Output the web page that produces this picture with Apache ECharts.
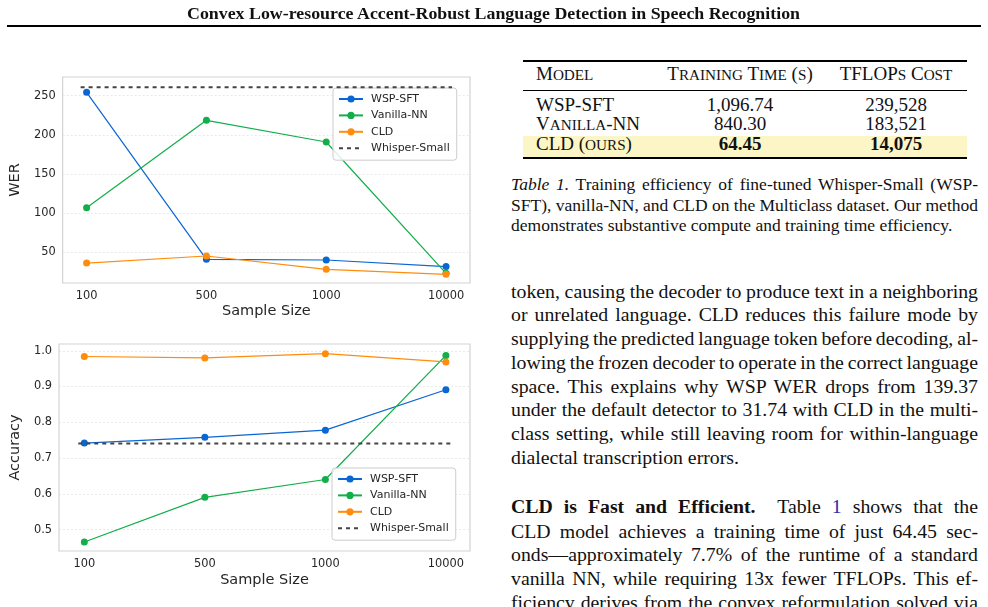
<!DOCTYPE html>
<html><head><meta charset="utf-8">
<script src="https://cdn.jsdelivr.net/npm/echarts/dist/echarts.min.js"></script>
<style>
html,body{margin:0;padding:0;background:#fff;width:988px;height:607px;overflow:hidden;}
#chart{position:absolute;left:0;top:0;width:490px;height:607px;}
.t{position:absolute;font-family:"Liberation Serif","Times New Roman",serif;color:#111;white-space:nowrap;}
.s{font-size:0.8em;}
.rule{position:absolute;background:#000;}
</style>
</head><body>
<div id="chart"></div>
<div id="page"></div>
<script>
// ---------- data ----------
const sampleSizes = ['100', '500', '1000', '10000'];
const seriesNames = ['WSP-SFT', 'Vanilla-NN', 'CLD', 'Whisper-Small'];
const werWspSft  = [254.3, 41.0, 40.2, 31.74];
const werVanilla = [107.0, 218.6, 190.9, 23.2];
const werCld     = [36.3, 45.3, 28.3, 21.9];
const werWhisper = 260.7;
const accWspSft  = [0.742, 0.758, 0.778, 0.891];
const accVanilla = [0.465, 0.590, 0.640, 0.987];
const accCld     = [0.984, 0.980, 0.992, 0.969];
const accWhisper = 0.741;
const werTicks = [50, 100, 150, 200, 250];
const accTicks = [0.5, 0.6, 0.7, 0.8, 0.9, 1.0];
const catIdx = [0, 1, 2, 3];

const colors = ['#0a66d2', '#12ae4a', '#ff8c0c', '#444444'];
const txt = '#262626';
const font = 'DejaVu Sans';

function pts(vals){ return vals.map((v,i)=>[catIdx[i], v]); }
function hline(v){ return [[-0.05, v], [3.05, v]]; }

function xAx(gi, min, max, gap){
  return {type:'value', gridIndex:gi, min:min, max:max,
    name:'Sample Size', nameLocation:'middle', nameGap:gap,
    nameTextStyle:{fontSize:14.5, color:txt, fontFamily:font},
    axisLine:{show:false}, axisTick:{show:false}, splitLine:{show:false},
    axisLabel:{customValues:catIdx, formatter:v=>sampleSizes[Math.round(v)], margin:8, fontSize:11.4, color:txt, fontFamily:font}};
}
function yAx(gi, min, max, ticks, name, gap, dec){
  return {type:'value', gridIndex:gi, min:min, max:max,
    name:name, nameLocation:'middle', nameGap:gap,
    nameTextStyle:{fontSize:14.5, color:txt, fontFamily:font},
    axisLine:{show:false},
    axisTick:{show:false, customValues:ticks},
    splitLine:{show:true, lineStyle:{color:'#e4e4e4', width:0.8, type:[2,2]}},
    axisLabel:{customValues:ticks, formatter:v=>dec?v.toFixed(1):String(v), margin:7, fontSize:11.4, color:txt, fontFamily:font}};
}
function lineS(name, data, xi, yi, ci, z){
  return {type:'line', name:name, xAxisIndex:xi, yAxisIndex:yi, data:data, z:z,
    symbol:'circle', symbolSize:7, showSymbol:true,
    lineStyle:{width:1.2, color:colors[ci]}, itemStyle:{color:colors[ci]}, emphasis:{disabled:true}, animation:false};
}
function dashS(data, xi, yi){
  return {type:'line', name:'Whisper-Small', xAxisIndex:xi, yAxisIndex:yi, data:data, z:6,
    symbol:'none', lineStyle:{width:2, type:[4,4], color:colors[3]}, itemStyle:{color:colors[3]}, emphasis:{disabled:true}, animation:false};
}
function legendAt(left, top){
  return {left:left, top:top, orient:'vertical',
    data:seriesNames.map(n=> n==='Whisper-Small' ? {name:n, itemStyle:{opacity:0}} : {name:n}),
    padding:[5,7,6,5], itemGap:4.4, itemWidth:24, itemHeight:9,
    lineStyle:{width:2},
    textStyle:{fontSize:11, color:txt, fontFamily:font, lineHeight:12, padding:[0,0,0,3]},
    backgroundColor:'rgba(255,255,255,0.85)', borderColor:'#cccccc', borderWidth:1, borderRadius:3,
    selectedMode:false};
}

const chart = echarts.init(document.getElementById('chart'), null, {renderer:'canvas'});
chart.setOption({
  animation:false,
  textStyle:{fontFamily:font},
  grid:[
    {left:57, top:77, width:413, height:206, show:true, borderColor:'#d3d3d3', borderWidth:1.2, containLabel:false},
    {left:53, top:344, width:417, height:207, show:true, borderColor:'#d3d3d3', borderWidth:1.2, containLabel:false}
  ],
  xAxis:[xAx(0,-0.2,3.2,21), xAx(1,-0.21,3.2,21.3)],
  yAxis:[yAx(0,10.8,273.9,werTicks,'WER',27.5,false), yAx(1,0.44,1.019,accTicks,'Accuracy',23.8,true)],
  legend:[legendAt(333,88), legendAt(332,468)],
  series:[
    lineS('WSP-SFT', pts(werWspSft), 0,0,0,2),
    lineS('Vanilla-NN', pts(werVanilla), 0,0,1,3),
    lineS('CLD', pts(werCld), 0,0,2,4),
    dashS(hline(werWhisper),0,0),
    lineS('WSP-SFT', pts(accWspSft), 1,1,0,2),
    lineS('Vanilla-NN', pts(accVanilla), 1,1,1,3),
    lineS('CLD', pts(accCld), 1,1,2,4),
    dashS(hline(accWhisper),1,1)
  ]
});

// ---------- page text ----------
const page = document.getElementById('page');
function add(html, css, cls){
  const d = document.createElement('div');
  d.className = 't ' + (cls||'');
  d.innerHTML = html;
  d.style.cssText = css;
  page.appendChild(d);
  return d;
}
function rule(x,y,w,h){ const r=document.createElement('div'); r.className='rule'; r.style.cssText=`left:${x}px;top:${y}px;width:${w}px;height:${h}px;`; page.appendChild(r); }
function justify(d, width){
  const w = d.getBoundingClientRect().width;
  const n = (d.textContent.match(/[ \u00a0]/g)||[]).length;
  if(n>0) d.style.wordSpacing = ((width - w)/n) + 'px';
}
// manual small caps: lowercase letters -> smaller uppercase
function sc(str){
  return str.replace(/[a-z]+/g, m=>'<span class="s">'+m.toUpperCase()+'</span>');
}

// header
const title = add('Convex Low-resource Accent-Robust Language Detection in Speech Recognition',
  'left:187px;top:4.5px;font-size:16.5px;line-height:17px;font-weight:bold;transform-origin:0 0;');
rule(7,25,974,2);

// table
rule(523,60,444,1.5);
rule(523,90.2,444,1);
const hl = document.createElement('div');
hl.style.cssText='position:absolute;left:523px;top:136px;width:444px;height:21px;background:#fcf6c6;';
page.appendChild(hl);
rule(523,157,444,1.8);
const tfs = 'font-size:19px;line-height:20px;';
function cell(html, x, cy, align){
  const d = add(html, tfs + `top:${cy-10-1}px;`);
  if(align==='c'){ d.style.left = x+'px'; d.style.transform='translateX(-50%)'; }
  else d.style.left = x+'px';
  return d;
}
cell(sc('Model'), 536, 75, 'l');
cell(sc('Training Time (s)'), 740, 75, 'c');
cell(sc('TFLOPs Cost'), 896, 75, 'c');
cell('WSP-SFT', 536, 106, 'l');
cell('1,096.74', 740, 106, 'c');
cell('239,528', 896, 106, 'c');
cell(sc('Vanilla-NN'), 536, 125.3, 'l');
cell('840.30', 740, 125.3, 'c');
cell('183,521', 896, 125.3, 'c');
cell('CLD ' + sc('(ours)'), 536, 144.5, 'l');
cell('<b>64.45</b>', 740, 144.5, 'c');
cell('<b>14,075</b>', 896, 144.5, 'c');

// caption
const capLines = [
  ['<i>Table 1.</i> Training efficiency of fine-tuned Whisper-Small (WSP-', true],
  ['SFT), vanilla-NN, and CLD on the Multiclass dataset. Our method', true],
  ['demonstrates substantive compute and training time efficiency.', false]
];
const capC = [185, 206, 226.7];
capLines.forEach((l,i)=>{
  const d = add(l[0], `left:511px;top:${capC[i]-10.5-1}px;font-size:17.5px;line-height:21px;`);
  if(l[1]) justify(d, 467);
});

// body
const bodyLines = [
  ['token, causing the decoder to produce text in a neighboring', true, 291.7],
  ['or unrelated language. CLD reduces this failure mode by', true, 315.2],
  ['supplying the predicted language token before decoding, al-', true, 338.8],
  ['lowing the frozen decoder to operate in the correct language', true, 362.7],
  ['space. This explains why WSP WER drops from 139.37', true, 386.6],
  ['under the default detector to 31.74 with CLD in the multi-', true, 410.3],
  ['class setting, while still leaving room for within-language', true, 434.3],
  ['dialectal transcription errors.', false, 458.3],
  ['<b>CLD is Fast and Efficient.</b>&nbsp; Table <span style="color:#2a2aa8">1</span> shows that the', true, 507.3],
  ['CLD model achieves a training time of just 64.45 sec-', true, 531.5],
  ['onds—approximately 7.7% of the runtime of a standard', true, 555.3],
  ['vanilla NN, while requiring 13x fewer TFLOPs. This ef-', true, 579.3],
  ['ficiency derives from the convex reformulation solved via', true, 603.3]
];
bodyLines.forEach(l=>{
  const d = add(l[0], `left:511px;top:${l[2]-12-1}px;font-size:19.8px;line-height:24px;`);
  if(l[1]) justify(d, 467);
});

// fit title width
const tw = title.getBoundingClientRect().width;
title.style.transform = `scaleX(${613/tw})`;
</script>
</body></html>
